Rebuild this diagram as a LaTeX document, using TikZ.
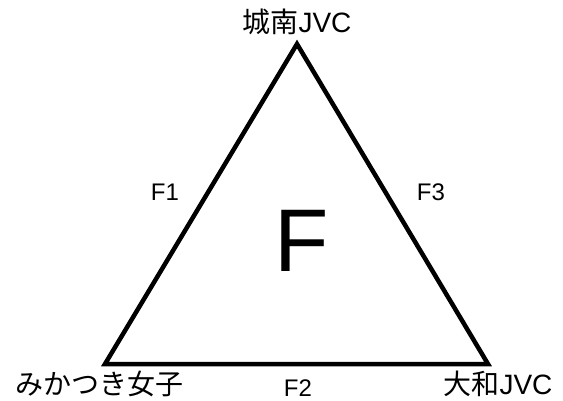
\documentclass[tikz,border=0pt]{standalone}
\usepackage{fontspec}
\setmainfont{Liberation Sans}
\newfontfamily\jpfont{Noto Sans CJK JP}
\begin{document}
\begin{tikzpicture}[x=1pt,y=-1pt,
  lbl/.style={inner sep=0pt,font=\fontsize{24}{24}\selectfont},
  vlbl/.style={inner sep=0pt,font=\fontsize{28}{28}\selectfont},
  edge/.style={line width=4.5pt,line join=miter}]
\useasboundingbox (0,0) rectangle (563,401);
\coordinate (top) at (297,44);
\coordinate (bl) at (105,364);
\coordinate (br) at (488,364);
\draw[edge] (top) -- (bl) -- (br) -- cycle;
\node[vlbl,anchor=base] (ntop) at (297,33) {{\jpfont 城南}JVC};
\node[vlbl,anchor=base] (nbl) at (100,394) {\jpfont みかつき女子};
\node[vlbl,anchor=base] (nbr) at (498,394) {{\jpfont 大和}JVC};
\node[lbl,anchor=base] (f1) at (165,201) {F1};
\node[lbl,anchor=base] (f3) at (431,201) {F3};
\node[lbl,anchor=base] (f2) at (298,396) {F2};
\node[inner sep=0pt,anchor=base,font=\fontsize{89}{89}\selectfont] (F) at (302,272) {F};
\end{tikzpicture}
\end{document}
